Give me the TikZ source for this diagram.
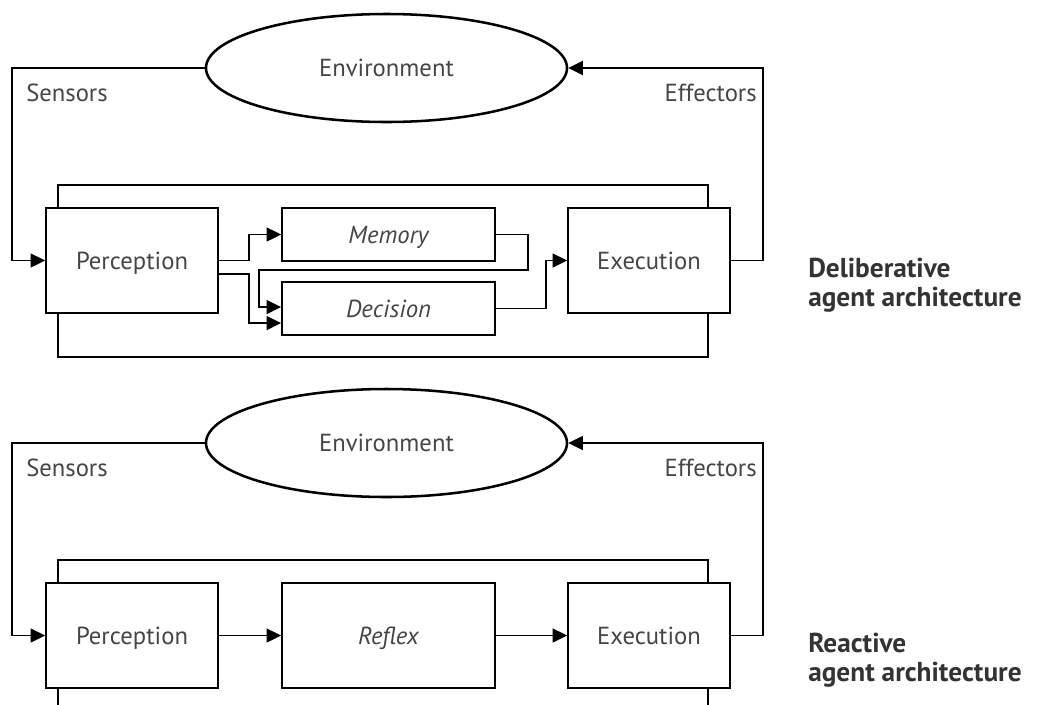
\documentclass[tikz,border=0pt]{standalone}
\usepackage{fontspec}
\setmainfont{PT Sans}
\usetikzlibrary{arrows.meta,shapes.geometric}
\definecolor{labelgray}{HTML}{454545}
\tikzset{
  unit/.style={draw=black, line width=1.25pt, rectangle, inner sep=0pt, text=labelgray,
    font=\fontsize{18.5}{22}\selectfont, text depth=0pt},
  envnode/.style={draw=black, line width=1.9pt, ellipse, inner sep=0pt,
    minimum width=270.75pt, minimum height=81pt, text=labelgray,
    font=\fontsize{18.5}{22}\selectfont},
  wire/.style={draw=black, line width=1.25pt},
  flow/.style={wire, -{Triangle[length=11pt, width=10.5pt]}},
  side/.style={text=labelgray, font=\fontsize{18.5}{22}\selectfont, inner sep=0pt},
  archlabel/.style={text=black!80, font=\bfseries\fontsize{20.5}{21.5}\selectfont,
    align=left, anchor=west, inner sep=0pt},
  tall/.style={minimum height=78.75pt},
  short/.style={minimum height=39.75pt},
}
\begin{document}
\begin{tikzpicture}[x=0.75pt, y=-0.75pt]
\useasboundingbox (0,0) rectangle (1041,704);
\clip (0,0) rectangle (1041,704);

% ---------- deliberative agent ----------
\node[envnode] (env1) at (386.5,68) {Environment};
\node[unit, tall, minimum width=129pt] (perc1) at (132,260.5) {Perception};
\node[unit, short, minimum width=159.75pt] (mem) at (388.5,234.5) {\itshape Memory};
\node[unit, short, minimum width=159.75pt] (dec) at (388.5,308.5) {\itshape Decision};
\node[unit, tall, minimum width=121.5pt] (exe1) at (649,260.5) {Execution};

\node[side, anchor=west] (sens1) at (26,93) {Sensors};
\node[side, anchor=east] (eff1) at (757,93) {Effectors};
\node[archlabel] (arch1) at (808,285) {Deliberative\\agent architecture};

\coordinate (sx1) at (12,0);
\coordinate (ex1) at (763,0);
\coordinate (ja) at (249,0);
\coordinate (jb) at (259,0);
\coordinate (loopR) at (528,234.5);
\coordinate (loopB) at (528,270);
\coordinate (jc) at (546,0);
\coordinate (fTL1) at (58,185);
\coordinate (fTR1) at (708,185);
\coordinate (fBL1) at (58,357);
\coordinate (fBR1) at (708,357);

\draw[flow] (env1.west) -- (env1.west -| sx1) |- (perc1.west);
\draw[flow] (exe1.east) -- (exe1.east -| ex1) |- (env1.east);
\draw[flow] (perc1.east) -- (perc1.east -| ja) |- (mem.west);
\draw[flow] ([yshift=-10pt]perc1.east) -- ([yshift=-10pt]perc1.east -| ja) |- ([yshift=-10.9pt]dec.west);
\draw[flow] (mem.east) -- (loopR) -- (loopB) -- (loopB -| jb) |- ([yshift=1.1pt]dec.west);
\draw[flow] (dec.east) -- (dec.east -| jc) |- (exe1.west);
\draw[wire] (perc1.north -| fTL1) -- (fTL1) -- (fTR1) -- (exe1.north -| fTR1);
\draw[wire] (perc1.south -| fBL1) -- (fBL1) -- (fBR1) -- (exe1.south -| fBR1);

% ---------- reactive agent ----------
\begin{scope}[shift={(0,375)}]
\node[envnode] (env2) at (386.5,68) {Environment};
\node[unit, tall, minimum width=129pt] (perc2) at (132,260.5) {Perception};
\node[unit, tall, minimum width=159.75pt] (refl) at (388.5,260.5) {\itshape Reflex};
\node[unit, tall, minimum width=121.5pt] (exe2) at (649,260.5) {Execution};

\node[side, anchor=west] (sens2) at (26,93) {Sensors};
\node[side, anchor=east] (eff2) at (757,93) {Effectors};
\node[archlabel] (arch2) at (808,285) {Reactive\\agent architecture};

\coordinate (sx2) at (12,0);
\coordinate (ex2) at (763,0);
\coordinate (fTL2) at (58,185);
\coordinate (fTR2) at (708,185);
\coordinate (fBL2) at (58,345);
\coordinate (fBR2) at (708,345);

\draw[flow] (env2.west) -- (env2.west -| sx2) |- (perc2.west);
\draw[flow] (exe2.east) -- (exe2.east -| ex2) |- (env2.east);
\draw[flow] (perc2) -- (refl);
\draw[flow] (refl) -- (exe2);
\draw[wire] (perc2.north -| fTL2) -- (fTL2) -- (fTR2) -- (exe2.north -| fTR2);
\draw[wire] (perc2.south -| fBL2) -- (fBL2) -- (fBR2) -- (exe2.south -| fBR2);
\end{scope}
\end{tikzpicture}
\end{document}
